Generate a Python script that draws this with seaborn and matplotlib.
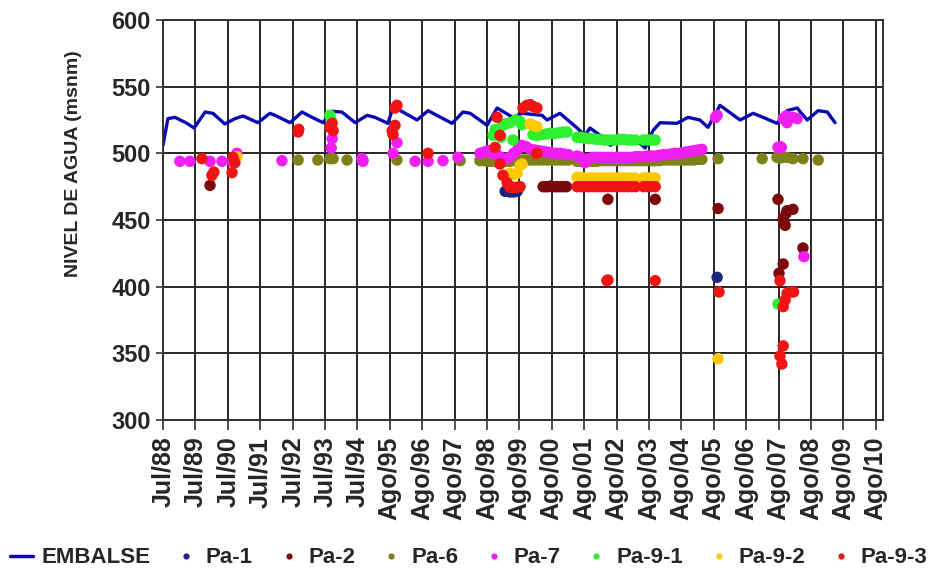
import matplotlib
matplotlib.use("Agg")
import matplotlib.pyplot as plt
import numpy as np
import pandas as pd
import seaborn as sns
from matplotlib.lines import Line2D

# ---------------------------------------------------------------
# Datos: tiempo en años decimales, nivel en msnm
# ---------------------------------------------------------------
embalse_anio = [1988.57, 1988.72, 1988.94, 1989.31, 1989.53, 1989.87, 1990.11, 1990.48,
                1990.79, 1991.04, 1991.50, 1991.87, 1992.03, 1992.49, 1992.86, 1993.17,
                1993.51, 1993.79, 1994.09, 1994.50, 1994.87, 1995.11, 1995.51, 1995.67,
                1995.79, 1996.41, 1996.75, 1997.49, 1997.83, 1998.05, 1998.57, 1998.88,
                1999.37, 1999.65, 2000.27, 2000.42, 2000.82, 2001.35, 2001.59, 2001.75,
                2002.06, 2002.37, 2002.77, 2003.29, 2003.45, 2003.69, 2003.91, 2004.43,
                2004.77, 2005.14, 2005.39, 2005.76, 2006.38, 2006.78, 2007.09, 2007.52,
                2007.83, 2008.14, 2008.45, 2008.79, 2009.07, 2009.31]
embalse_nivel = [506, 526, 527, 522.5, 519, 531, 530, 522,
                 526, 528, 523, 530, 528.5, 523, 531, 527,
                 523, 531.5, 531, 523, 528.5, 527, 522.5, 534.5,
                 533.5, 525, 532, 522.5, 531, 530, 521, 534,
                 527, 530, 528.5, 525, 530, 519, 513.5, 519,
                 513.5, 506, 511, 507.5, 504, 517, 523, 522.5,
                 527, 525, 519.5, 536, 525, 530, 527, 522.5,
                 532, 534, 525, 532, 531, 523]

# fechas de campaña compartidas por varios piezómetros
campanas_98_01 = [1998.35, 1998.48, 1998.61, 1998.74, 1998.87, 1999.00, 1999.13, 1999.26,
                  1999.39, 1999.52, 1999.65, 1999.78, 1999.91, 2000.04, 2000.17, 2000.30,
                  2000.43, 2000.56, 2000.69, 2000.82, 2000.95, 2001.08]
campanas_01_03 = [2001.35, 2001.47, 2001.59, 2001.71, 2001.83, 2001.95, 2002.07, 2002.19,
                  2002.31, 2002.43, 2002.55, 2002.67, 2002.79, 2002.91, 2003.03, 2003.15,
                  2003.40, 2003.52, 2003.64, 2003.76]
campanas_01_05 = [2001.35, 2001.47, 2001.59, 2001.71, 2001.83, 2001.95, 2002.07, 2002.19,
                  2002.31, 2002.43, 2002.55, 2002.67, 2002.79, 2002.91, 2003.03, 2003.15,
                  2003.27, 2003.40, 2003.52, 2003.64, 2003.76, 2003.88, 2004.00, 2004.12,
                  2004.24, 2004.36, 2004.48, 2004.60, 2004.72, 2004.84, 2004.96, 2005.08,
                  2005.20]

pa1_anio = [1999.13, 1999.28, 1999.40, 1999.50, 2005.67]
pa1_nivel = [471.5, 471, 471, 471.5, 407]

pa2_anio = [1990.02, 2000.30, 2000.38, 2000.46, 2000.54, 2000.62, 2000.70, 2000.78,
            2000.86, 2000.94, 2001.02, 2002.30, 2003.76, 2005.70, 2007.55, 2007.83,
            2008.01, 2007.80, 2007.71, 2007.77, 2007.74, 2008.32, 2007.71, 2007.58]
pa2_nivel = [476, 475, 475, 475, 475.5, 475, 475, 475,
             475, 475, 475, 465.5, 465.5, 458.6, 465.5, 457,
             458, 455, 451, 446, 448, 429, 417, 410]

pa6_anio = ([1992.74, 1993.35, 1993.72, 1993.82, 1994.25, 1994.74, 1995.79, 1997.74]
            + campanas_98_01 + campanas_01_05
            + [2005.70, 2007.06, 2007.52, 2007.62, 2007.72, 2007.83, 2008.01, 2008.32, 2008.79])
pa6_nivel = ([495, 495, 496, 496, 495, 495, 495, 494.5]
             + [494.5, 494.5, 494, 494, 493.5, 493.5, 494, 494, 494.5, 494.5, 495,
                495, 495, 495, 495, 495, 495, 495, 495, 495, 495, 495]
             + [494, 494, 494, 494, 494, 494, 494.5, 494.5, 494.5, 494.5, 494.5,
                494.5, 494.5, 494.5, 494.5, 494.5, 494.5, 494.5, 494.5, 494.5, 494.5,
                494.5, 495, 495, 495, 495, 495, 495, 495, 495, 495, 495.5, 495.5]
             + [496, 496, 497, 496.5, 497, 497, 496, 496, 495])

pa7_anio = ([1989.09, 1989.40, 1990.02, 1990.39, 1990.70, 1990.85, 1992.24, 1993.79,
             1993.76, 1994.71, 1994.74, 1995.67, 1995.79, 1996.35, 1996.75, 1997.21,
             1997.67]
            + campanas_98_01 + campanas_01_05
            + [2005.67, 2005.62, 2007.55, 2007.61, 2007.65, 2007.71, 2007.83, 2008.01,
               2008.14, 2007.80, 2008.35])
pa7_nivel = ([494, 494, 494, 494, 494, 500, 494.5, 511,
              504, 496, 494, 500, 508, 494, 494, 494.5,
              497]
             + [500, 501, 502, 500, 499, 497, 496, 497, 500, 503, 506, 505,
                503, 502.5, 502, 501.5, 501, 500.5, 500, 500, 499.5, 499]
             + [498, 497, 493, 496, 497, 497, 497, 497, 497, 497, 497, 497,
                497, 497, 497, 497.5, 497.5, 497.5, 498, 498, 498, 498.5, 499, 499,
                499.5, 500, 500, 500.5, 501, 501.5, 502, 502.5, 503]
             + [528.5, 527, 504.5, 505, 504.5, 526, 523, 527,
                526, 528, 422.5])

pa91_anio = ([1993.72, 1993.76, 1998.76, 1998.82, 1999.00, 1999.06, 1999.13, 1999.28,
              1999.37, 1999.45, 1999.59, 1999.65, 1999.99, 2000.11, 2000.25, 2000.40,
              2000.51, 2000.65, 2000.80, 2000.92, 2001.04]
             + campanas_01_03 + [2007.55])
pa91_nivel = ([528.5, 525, 513.5, 518, 512, 521, 522, 523,
               510, 525, 524, 521.5, 514, 513.5, 514, 514.5,
               515, 515, 515.5, 516, 516]
              + [512, 512, 511.5, 511, 511, 510.5, 510.5, 510, 510, 510,
                 510, 510.5, 510.5, 510, 510, 510, 510, 510, 510, 510]
              + [387])

pa92_anio = ([1990.85, 1999.28, 1999.40, 1999.50, 1999.59, 1999.65, 1999.90, 1999.99,
              2000.11]
             + campanas_01_03 + [2005.70])
pa92_nivel = ([497.5, 485, 484, 485, 491, 492, 522, 521, 520]
              + [482, 482, 481.5, 481.5, 481.5, 481.5, 481.5, 481.5, 481.5, 481.5,
                 481.5, 481.5, 481.5, 481.5, 481.5, 481.5, 481.5, 481.5, 481.5, 481.5]
              + [346])

pa93_anio = ([1989.77, 1990.08, 1990.14, 1990.79, 1990.73, 1990.70, 1992.74, 1992.76,
              1993.72, 1993.79, 1993.82, 1995.64, 1995.73, 1995.67, 1995.79, 1995.73,
              1996.75, 1998.88, 1998.97, 1998.82, 1998.97, 1999.06, 1999.19, 1999.28,
              1999.40, 1999.50, 1999.59, 1999.68, 1999.80, 1999.90, 2000.00, 2000.11,
              2000.11]
             + campanas_01_03
             + [2002.27, 2002.30, 2003.76, 2005.73, 2007.61, 2007.83, 2007.93, 2008.03,
                2007.71, 2007.77, 2007.71, 2007.61, 2007.67])
pa93_nivel = ([496, 483.5, 486, 493, 497, 485.5, 516, 518,
               519.5, 522.5, 517, 517, 521, 514, 536, 534,
               500, 527, 513.5, 504.5, 492, 483.5, 478, 474.5,
               474.5, 474.5, 475, 534, 536, 536.5, 535, 534,
               500]
              + [475, 475, 475, 475, 475, 475, 475, 475, 475, 475,
                 475, 475, 475, 475, 475, 475, 475, 475, 475, 475]
              + [404.5, 405, 404.5, 396, 404.5, 395, 396, 396,
                 385, 390, 355.6, 348, 342])

pozos = ["Pa-1", "Pa-2", "Pa-6", "Pa-7", "Pa-9-1", "Pa-9-2", "Pa-9-3"]
colores = {"Pa-1": "#23237a", "Pa-2": "#7d0a0a", "Pa-6": "#808018",
           "Pa-7": "#f01ef0", "Pa-9-1": "#2ef02e", "Pa-9-2": "#ffc800",
           "Pa-9-3": "#f01414"}
color_embalse = "#0a0ab4"

# etiquetas del eje temporal (una por año)
etiquetas_x = ["Jul/88", "Jul/89", "Jul/90", "Jul/91", "Jul/92", "Jul/93", "Jul/94",
               "Ago/95", "Ago/96", "Ago/97", "Ago/98", "Ago/99", "Ago/00", "Ago/01",
               "Ago/02", "Ago/03", "Ago/04", "Ago/05", "Ago/06", "Ago/07", "Ago/08",
               "Ago/09", "Ago/10"]
posiciones_x = [1988.57 + i for i in range(len(etiquetas_x))]

# ---------------------------------------------------------------
df_emb = pd.DataFrame({"anio": embalse_anio, "nivel": embalse_nivel})
series = {"Pa-1": (pa1_anio, pa1_nivel), "Pa-2": (pa2_anio, pa2_nivel),
          "Pa-6": (pa6_anio, pa6_nivel), "Pa-7": (pa7_anio, pa7_nivel),
          "Pa-9-1": (pa91_anio, pa91_nivel), "Pa-9-2": (pa92_anio, pa92_nivel),
          "Pa-9-3": (pa93_anio, pa93_nivel)}
df_pz = pd.concat([pd.DataFrame({"anio": a, "nivel": n, "pozo": p})
                   for p, (a, n) in series.items()], ignore_index=True)

sns.set_theme(style="white")
plt.rcParams["font.family"] = ["Liberation Sans", "DejaVu Sans"]
plt.rcParams["font.weight"] = "bold"

fig = plt.figure(figsize=(9.38, 5.74), dpi=100)
ax = fig.add_axes([163 / 938, 1 - 420 / 574, 720 / 938, 400 / 574])

sns.lineplot(data=df_emb, x="anio", y="nivel", color=color_embalse, linewidth=2.4,
             sort=False, ax=ax, zorder=2)
sns.scatterplot(data=df_pz, x="anio", y="nivel", hue="pozo", hue_order=pozos,
                palette=colores, s=68, linewidth=0, ax=ax, legend=False, zorder=3)

ax.set_xlim(1988.57, 2010.79)
ax.set_ylim(300, 600)
ax.set_xticks(posiciones_x)
ax.set_xticklabels(etiquetas_x, rotation=90, fontsize=18, fontweight="bold")
ax.set_yticks(np.arange(300, 601, 50))
ax.tick_params(axis="y", labelsize=17, length=5, width=1.2, color="#333333",
               direction="out", left=True, pad=4)
ax.tick_params(axis="x", length=7, width=1.2, color="#333333", direction="out",
               bottom=True, pad=5)
for lab in ax.get_yticklabels():
    lab.set_fontweight("bold")

ax.set_axisbelow(True)
ax.grid(True, color="#262626", linewidth=1.4)
for sp in ax.spines.values():
    sp.set_color("#333333")
    sp.set_linewidth(1.4)

ax.set_xlabel("")
ax.set_ylabel("NIVEL DE AGUA (msnm)", fontsize=14, fontweight="bold")
ax.yaxis.set_label_coords(-0.112, 0.64)

handles = [Line2D([0], [0], color=color_embalse, linewidth=2.5, label="EMBALSE")]
for p in pozos:
    handles.append(Line2D([0], [0], marker="o", linestyle="none", markersize=4.5,
                          markerfacecolor=colores[p], markeredgewidth=0, label=p))
fig.legend(handles=handles, loc="center", bbox_to_anchor=(0.5, 0.028), ncol=8,
           frameon=False, handlelength=1.0, handletextpad=0.4,
           columnspacing=1.1, borderpad=0.1, borderaxespad=0.0,
           prop={"weight": "bold", "size": 16})

fig.savefig("out.png", dpi=100, facecolor="white")
